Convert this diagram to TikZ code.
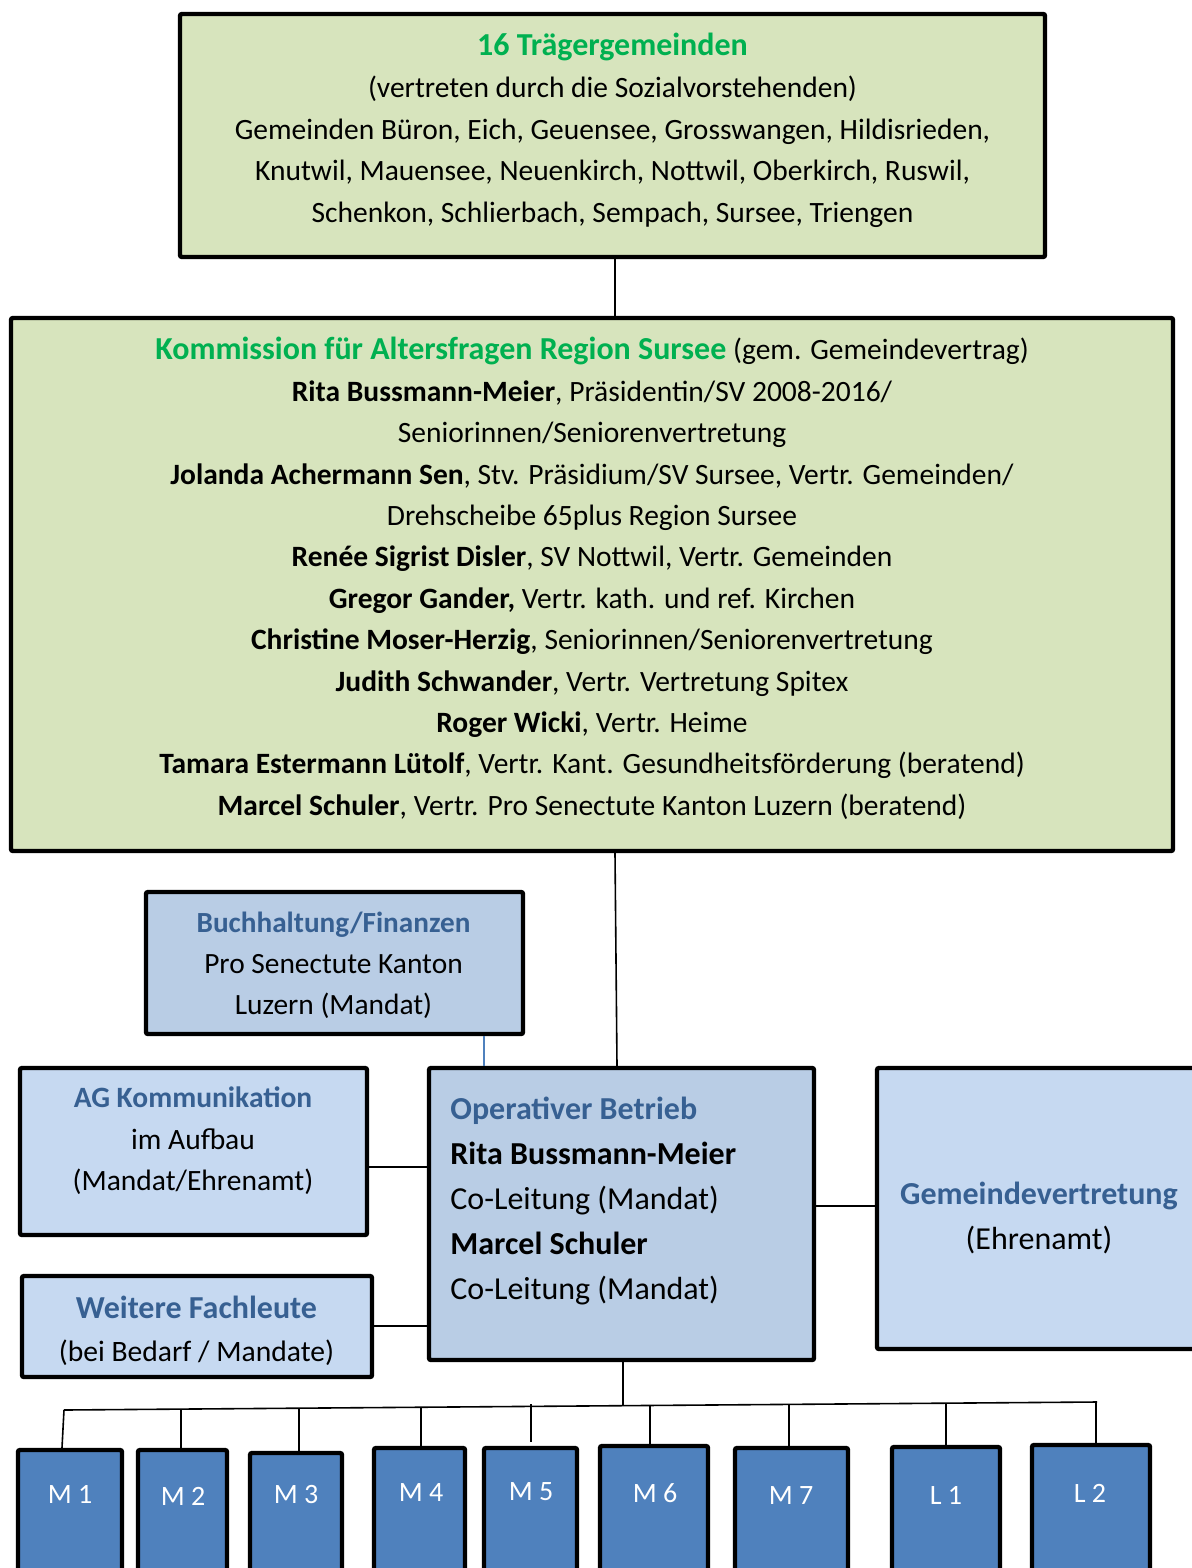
\documentclass[tikz,border=0pt]{standalone}
\usepackage{fontspec}
\setmainfont{Carlito}
\usetikzlibrary{fit,calc}
\definecolor{tgreen}{HTML}{00B050}
\definecolor{gfill}{HTML}{D7E4BD}
\definecolor{bfillA}{HTML}{B9CDE5}
\definecolor{bfillB}{HTML}{C6D9F1}
\definecolor{tblue}{HTML}{376092}
\definecolor{mfill}{HTML}{4F81BD}
\newcommand{\ttl}[2]{{\fontsize{16pt}{16pt}\selectfont\bfseries\color{#1}#2}}
\begin{document}
\begin{tikzpicture}[x=0.5pt,y=-0.5pt,
  box/.style={draw=black, line width=2.2pt, rounded corners=1pt, inner sep=0pt},
  gbox/.style={box, fill=gfill},
  bboxA/.style={box, fill=bfillA},
  bboxB/.style={box, fill=bfillB},
  mbox/.style={box, fill=mfill},
  conn/.style={draw=black, line width=0.8pt},
  txt/.style={align=center, inner sep=0pt, font=\fontsize{14.75pt}{20.8pt}\selectfont},
  txtL/.style={align=center, inner sep=0pt, font=\fontsize{16pt}{22.5pt}\selectfont},
  mtxt/.style={inner sep=0pt, text=white, font=\fontsize{14pt}{17pt}\selectfont},
]
\useasboundingbox (0,0) rectangle (1192,1568);
\clip (0,0) rectangle (1192,1568);
\fill[white] (0,0) rectangle (1192,1568);

% boxes
\node[gbox, fit={(180,14) (1045,257)}] (top) {};
\node[gbox, fit={(11,318) (1173,851)}] (komm) {};
\node[bboxA, fit={(146,892) (523,1034)}] (buch) {};
\node[bboxB, fit={(20,1068) (367,1235)}] (ag) {};
\node[bboxA, fit={(429,1068) (814,1360)}] (op) {};
\node[bboxB, fit={(22,1276) (372,1377)}] (weit) {};
\node[bboxB, fit={(877,1068) (1210,1349)}] (gem) {};

\node[mbox, fit={(18,1450) (122,1610)}] (m1) {};
\node[mbox, fit={(138,1450) (227,1610)}] (m2) {};
\node[mbox, fit={(250,1453) (342,1610)}] (m3) {};
\node[mbox, fit={(374,1448) (465,1610)}] (m4) {};
\node[mbox, fit={(484,1448) (577,1610)}] (m5) {};
\node[mbox, fit={(600,1446) (708,1610)}] (m6) {};
\node[mbox, fit={(735,1448) (848,1610)}] (m7) {};
\node[mbox, fit={(892,1447) (1000,1610)}] (l1) {};
\node[mbox, fit={(1032,1445) (1150,1610)}] (l2) {};

% texts
\node[txt] (toptext) at (612.5,130.5) {%
  \ttl{tgreen}{16 Trägergemeinden}\\
  (vertreten durch die Sozialvorstehenden)\\
  Gemeinden Büron, Eich, Geuensee, Grosswangen, Hildisrieden,\\
  Knutwil, Mauensee, Neuenkirch, Nottwil, Oberkirch, Ruswil,\\
  Schenkon, Schlierbach, Sempach, Sursee, Triengen};

\node[txt, font=\fontsize{14.75pt}{20.7pt}\selectfont] (kommtext) at (592,578.5) {%
  \ttl{tgreen}{Kommission für Altersfragen Region Sursee} (gem. Gemeindevertrag)\\
  \textbf{Rita Bussmann-Meier}, Präsidentin/SV 2008-2016/\\
  Seniorinnen/Seniorenvertretung\\
  \textbf{Jolanda Achermann Sen}, Stv. Präsidium/SV Sursee, Vertr. Gemeinden/\\
  Drehscheibe 65plus Region Sursee\\
  \textbf{Renée Sigrist Disler}, SV Nottwil, Vertr. Gemeinden\\
  \textbf{Gregor Gander,} Vertr. kath. und ref. Kirchen\\
  \textbf{Christine Moser-Herzig}, Seniorinnen/Seniorenvertretung\\
  \textbf{Judith Schwander}, Vertr. Vertretung Spitex\\
  \textbf{Roger Wicki}, Vertr. Heime\\
  \textbf{Tamara Estermann Lütolf}, Vertr. Kant. Gesundheitsförderung (beratend)\\
  \textbf{Marcel Schuler}, Vertr. Pro Senectute Kanton Luzern (beratend)};

\node[txt, font=\fontsize{14.7pt}{20.6pt}\selectfont] (buchtext) at (333.5,965) {%
  {\fontsize{14.6pt}{14.6pt}\selectfont\bfseries\color{tblue}Buchhaltung/Finanzen}\\
  Pro Senectute Kanton\\
  Luzern (Mandat)};

\node[txt] (agtext) at (193,1141) {%
  {\bfseries\color{tblue}AG Kommunikation}\\
  im Aufbau\\
  (Mandat/Ehrenamt)};

\node[txtL, align=left, anchor=west] (optext) at (450,1201) {%
  {\bfseries\color{tblue}Operativer Betrieb}\\
  \textbf{Rita Bussmann-Meier}\\
  Co-Leitung (Mandat)\\
  \textbf{Marcel Schuler}\\
  Co-Leitung (Mandat)};

\node[txt, font=\fontsize{14.8pt}{21.5pt}\selectfont] (weittext) at (196.5,1330.5) {%
  \ttl{tblue}{Weitere Fachleute}\\
  (bei Bedarf / Mandate)};

\node[txtL] (gemtext) at (1039,1217.5) {%
  {\bfseries\color{tblue}Gemeindevertretung}\\
  (Ehrenamt)};

\node[mtxt] (m1t) at (70,1494) {M 1};
\node[mtxt] (m2t) at (183,1496) {M 2};
\node[mtxt] (m3t) at (296,1494) {M 3};
\node[mtxt] (m4t) at (421,1492) {M 4};
\node[mtxt] (m5t) at (531,1492) {M 5};
\node[mtxt] (m6t) at (655,1493) {M 6};
\node[mtxt] (m7t) at (791,1495) {M 7};
\node[mtxt] (l1t) at (946,1495) {L 1};
\node[mtxt] (l2t) at (1090,1493) {L 2};

% connectors
\coordinate (xa) at (615,0);
\coordinate (xb) at (617,0);
\coordinate (xc) at (484,0);
\coordinate (xd) at (62,0);
\draw[conn] (xa |- top.south) -- (xa |- komm.north);
\draw[conn] (xa |- komm.south) -- (xb |- op.north);
\draw[line width=0.8pt, draw=mfill] (xc |- buch.south) -- (xc |- op.north);
\coordinate (yag) at (0,1167);
\draw[conn] (ag.east |- yag) -- (op.west |- yag);
\coordinate (ywe) at (0,1326);
\draw[conn] (weit.east |- ywe) -- (op.west |- ywe);
\coordinate (ygm) at (0,1206);
\draw[conn] (op.east |- ygm) -- (gem.west |- ygm);

\coordinate (busL) at (64,1410);
\coordinate (busR) at (1097,1402);
\draw[conn] (busL) -- (busR);
\coordinate (bop) at (623,1405.7);
\draw[conn] (bop |- op.south) -- (bop);
\coordinate (b1) at (64,1410);
\coordinate (b2) at (181,1409.1);
\coordinate (b3) at (299,1408.2);
\coordinate (b4) at (421,1407.2);
\coordinate (b5) at (531,1404);
\coordinate (b6) at (650,1405.5);
\coordinate (b7) at (789,1404.4);
\coordinate (b8) at (946,1403.2);
\coordinate (b9) at (1096,1402);
\draw[conn] (b1) -- (xd |- m1.north);
\draw[conn] (b2) -- (b2 |- m2.north);
\draw[conn] (b3) -- (b3 |- m3.north);
\draw[conn] (b4) -- (b4 |- m4.north);
\draw[conn] (b5) -- ($(b5 |- m5.north)+(0,-4)$);
\draw[conn] (b6) -- (b6 |- m6.north);
\draw[conn] (b7) -- (b7 |- m7.north);
\draw[conn] (b8) -- (b8 |- l1.north);
\draw[conn] (b9) -- (b9 |- l2.north);
\end{tikzpicture}
\end{document}
